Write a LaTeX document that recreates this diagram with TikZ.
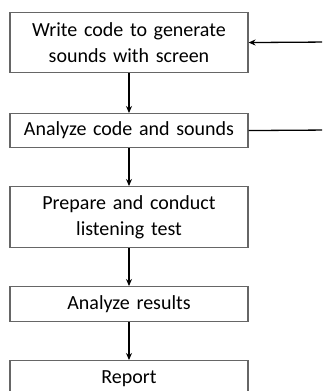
\documentclass[tikz,border=0pt]{standalone}
\usepackage{fontspec}
\setmainfont{Carlito}
\usetikzlibrary{arrows.meta}
\begin{document}
\begin{tikzpicture}[x=1pt,y=1pt,
  stepbox/.style={draw=black!60, line width=1.1pt, fill=white, anchor=north,
    minimum width=238pt, text width=234pt, align=center, inner sep=0pt,
    font=\fontsize{20}{26}\selectfont},
  flow/.style={draw=black, line width=1.3pt, -{Stealth[length=7pt,width=6pt]}},
  back/.style={draw=black, line width=1.3pt}]
\useasboundingbox (0,0) rectangle (322,-391);
\clip (0,0) rectangle (322,-391);
% process steps, top to bottom
\node[stepbox, minimum height=60pt] (write)   at (129,-12)  {Write code to generate\\sounds with screen};
\node[stepbox, minimum height=34pt] (analyze) at (129,-113) {Analyze code and sounds};
\node[stepbox, minimum height=61pt] (test)    at (129,-186) {Prepare and conduct\\listening test};
\node[stepbox, minimum height=35pt] (results) at (129,-286) {Analyze results};
\node[stepbox, minimum height=50pt, text depth=0pt] (report) at (129,-360) {\raisebox{16pt}{Report}};
% forward arrows
\draw[flow] (write.south)   -- (analyze.north);
\draw[flow] (analyze.south) -- (test.north);
\draw[flow] (test.south)    -- (results.north);
\draw[flow] (results.south) -- (report.north);
% feedback lines leaving to the right
\coordinate (inloop)  at (330,-42);
\coordinate (outloop) at (330,-130);
\draw[flow] (inloop) -- (write.east);
\draw[back] (analyze.east) -- (outloop);
\end{tikzpicture}
\end{document}
